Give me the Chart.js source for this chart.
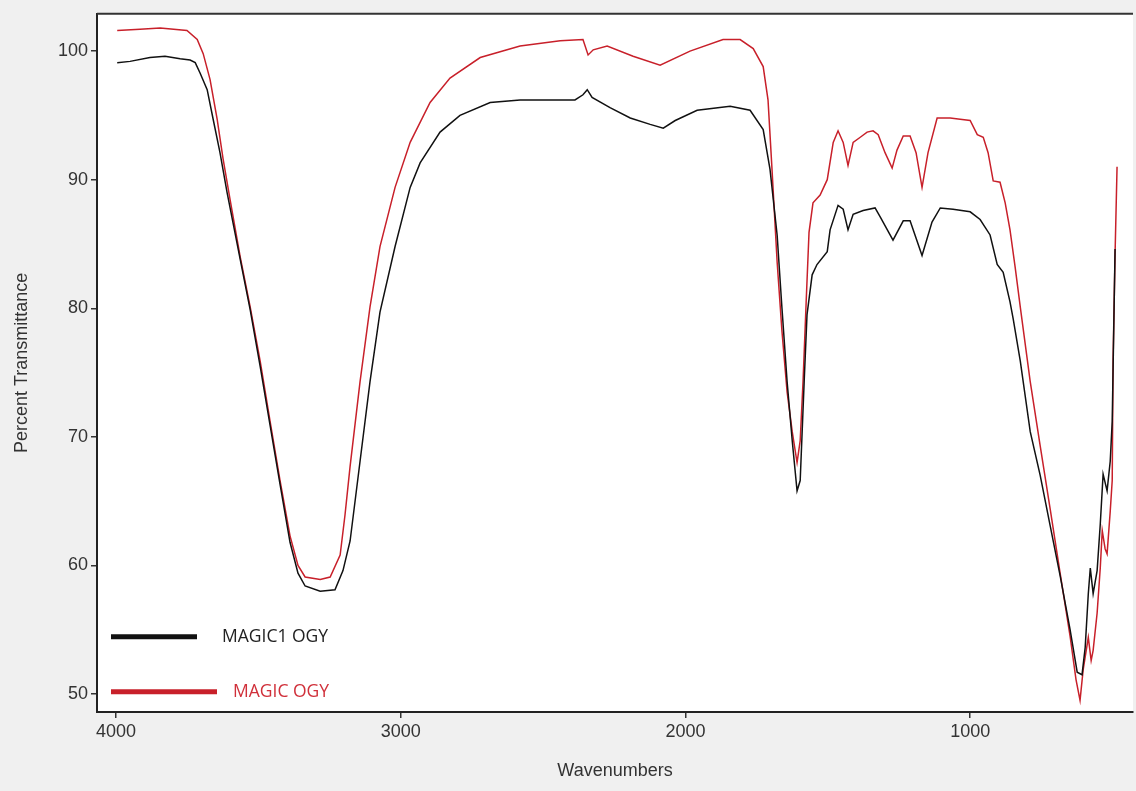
<!DOCTYPE html>
<html lang="en">
<head>
<meta charset="UTF-8">
<title>Percent Transmittance vs Wavenumbers</title>
<script src="https://cdn.jsdelivr.net/npm/chart.js"></script>
<style>
  html, body { margin: 0; padding: 0; background: #f0f0f0; }
  .wrap { width: 1136px; height: 791px; }
</style>
</head>
<body>
<div class="wrap"><canvas id="ftirChart" width="1136" height="791"></canvas></div>
<script>
// MAGIC1 OGY (black trace)
const wnBlack = [3996, 3951, 3881, 3828, 3775, 3740, 3722, 3705, 3680, 3659, 3635, 3610, 3564, 3529, 3494, 3459,
  3424, 3389, 3361, 3336, 3283, 3231, 3203, 3178, 3143, 3108, 3073, 3020, 2967, 2932, 2862, 2792, 2686, 2581,
  2475, 2388, 2360, 2345, 2328, 2265, 2194, 2124, 2078, 2036, 1959, 1843, 1773, 1727, 1703, 1678, 1661, 1643,
  1625, 1608, 1597, 1583, 1573, 1555, 1538, 1502, 1492, 1464, 1446, 1429, 1411, 1376, 1334, 1316, 1271, 1235,
  1211, 1169, 1134, 1105, 1060, 1000, 965, 930, 905, 884, 860, 849, 824, 789, 754, 719, 684, 649, 624, 607,
  596, 585, 578, 568, 554, 543, 533, 519, 508, 501, 491];
const tBlack = [99.1, 99.2, 99.5, 99.6, 99.4, 99.3, 99.1, 98.3, 97.0, 94.7, 92.1, 89.0, 83.8, 79.9, 75.5, 70.9,
  66.3, 61.8, 59.4, 58.4, 58.0, 58.1, 59.6, 61.9, 68.1, 74.3, 79.7, 84.8, 89.4, 91.3, 93.7, 95.0, 96.0, 96.2,
  96.2, 96.2, 96.6, 97.0, 96.4, 95.6, 94.8, 94.3, 94.0, 94.6, 95.4, 95.7, 95.4, 93.9, 90.8, 85.7, 80.0, 74.3,
  69.7, 65.8, 66.6, 74.3, 79.5, 82.6, 83.4, 84.4, 86.1, 88.0, 87.7, 86.1, 87.3, 87.6, 87.8, 87.1, 85.3, 86.8,
  86.8, 84.1, 86.7, 87.8, 87.7, 87.5, 86.9, 85.7, 83.4, 82.8, 80.5, 79.2, 75.9, 70.4, 67.0, 63.1, 59.2, 55.0, 51.7, 51.5,
  53.6, 57.8, 59.8, 57.8, 59.6, 63.2, 67.1, 65.8, 68.1, 71.2, 84.6];

// MAGIC OGY (red trace)
const wnRed = [3996, 3916, 3845, 3751, 3715, 3694, 3670, 3645, 3624, 3600, 3564, 3529, 3494, 3459, 3424, 3389,
  3361, 3336, 3283, 3248, 3213, 3196, 3178, 3143, 3108, 3073, 3020, 2967, 2897, 2827, 2721, 2581, 2440, 2360,
  2342, 2324, 2275, 2184, 2089, 1984, 1868, 1808, 1762, 1727, 1710, 1696, 1678, 1661, 1643, 1625, 1608, 1597,
  1587, 1576, 1566, 1552, 1527, 1502, 1481, 1464, 1446, 1429, 1411, 1386, 1362, 1341, 1323, 1299, 1274, 1257,
  1235, 1211, 1190, 1169, 1148, 1116, 1070, 1035, 1000, 975, 954, 937, 919, 895, 877, 860, 842, 824, 789, 754,
  719, 684, 649, 628, 614, 603, 585, 575, 568, 554, 543, 536, 526, 519, 508, 501, 498, 491, 484];
const tRed = [101.6, 101.7, 101.8, 101.6, 100.9, 99.8, 97.8, 94.7, 91.6, 88.5, 84.0, 80.1, 75.9, 71.2, 66.6, 62.3,
  60.0, 59.1, 58.9, 59.1, 60.8, 63.9, 67.7, 74.3, 80.1, 84.8, 89.4, 92.9, 96.0, 97.9, 99.5, 100.4, 100.8, 100.9,
  99.7, 100.1, 100.4, 99.6, 98.9, 100.0, 100.9, 100.9, 100.2, 98.8, 96.2, 90.8, 83.6, 78.2, 73.5, 70.4, 68.0, 69.7,
  74.3, 80.5, 85.9, 88.2, 88.8, 90.0, 92.9, 93.8, 92.9, 91.1, 92.9, 93.3, 93.7, 93.8, 93.5, 92.1, 90.9, 92.3,
  93.4, 93.4, 92.1, 89.4, 92.1, 94.8, 94.8, 94.7, 94.6, 93.5, 93.3, 92.1, 89.9, 89.8, 88.2, 86.1, 83.2, 80.1, 74.3, 69.3,
  64.4, 59.4, 54.5, 51.1, 49.5, 51.9, 54.4, 52.6, 53.4, 56.3, 59.8, 62.7, 61.3, 60.9, 64.2, 66.6, 75.9, 84.2, 91.0];

const xTicks = [4000, 3000, 2000, 1000];
const yTicks = [50, 60, 70, 80, 90, 100];

const toPoints = (xs, ys) => xs.map((x, i) => ({ x: x, y: ys[i] }));

const frameAndLegend = {
  id: 'frameAndLegend',
  beforeDraw(chart) {
    const { ctx, chartArea: a } = chart;
    ctx.save();
    ctx.fillStyle = '#f0f0f0';
    ctx.fillRect(0, 0, chart.width, chart.height);
    ctx.fillStyle = '#ffffff';
    ctx.fillRect(a.left, a.top, a.right - a.left, a.bottom - a.top);
    ctx.restore();
  },
  afterDraw(chart) {
    const { ctx, chartArea: a } = chart;
    ctx.save();
    // top border of the plot box
    ctx.strokeStyle = '#333';
    ctx.lineWidth = 2;
    ctx.beginPath();
    ctx.moveTo(a.left, a.top);
    ctx.lineTo(a.right, a.top);
    ctx.stroke();

    // legend inside the plot, bottom left
    const items = [
      { ds: chart.data.datasets[0], y: a.top + 623, x0: a.left + 14, x1: a.left + 100, tx: a.left + 125 },
      { ds: chart.data.datasets[1], y: a.top + 678, x0: a.left + 14, x1: a.left + 120, tx: a.left + 136 }
    ];
    ctx.font = '17.5px "Open Sans", sans-serif';
    ctx.textBaseline = 'middle';
    items.forEach(it => {
      ctx.strokeStyle = it.ds.borderColor;
      ctx.lineWidth = 5;
      ctx.beginPath();
      ctx.moveTo(it.x0, it.y);
      ctx.lineTo(it.x1, it.y);
      ctx.stroke();
      ctx.fillStyle = it.ds.labelColor;
      ctx.fillText(it.ds.label, it.tx, it.y);
    });
    ctx.restore();
  }
};

const tickFont = { family: '"Liberation Sans", Arial, sans-serif', size: 18 };
const titleFont = { family: '"Liberation Sans", Arial, sans-serif', size: 18 };

new Chart(document.getElementById('ftirChart'), {
  type: 'line',
  data: {
    datasets: [
      {
        label: 'MAGIC1 OGY',
        data: toPoints(wnBlack, tBlack),
        borderColor: '#111111',
        labelColor: '#222222',
        borderWidth: 1.5,
        pointRadius: 0,
        tension: 0
      },
      {
        label: 'MAGIC OGY',
        data: toPoints(wnRed, tRed),
        borderColor: '#c8202a',
        labelColor: '#d0303a',
        borderWidth: 1.5,
        pointRadius: 0,
        tension: 0
      }
    ]
  },
  options: {
    responsive: false,
    animation: false,
    devicePixelRatio: 1,
    layout: { padding: { top: 10, right: 3, left: 0, bottom: 0 } },
    plugins: {
      legend: { display: false },
      tooltip: { enabled: false }
    },
    scales: {
      x: {
        type: 'linear',
        reverse: true,
        min: 428,
        max: 4067,
        afterBuildTicks: s => { s.ticks = xTicks.map(v => ({ value: v })); },
        afterFit: s => { s.height = 79; },
        ticks: {
          color: '#333',
          font: tickFont,
          padding: 3,
          autoSkip: false,
          maxRotation: 0,
          callback: v => String(v)
        },
        grid: { drawOnChartArea: false, drawTicks: true, tickLength: 6, color: '#333', lineWidth: 1.5 },
        border: { color: '#222', width: 2 },
        title: { display: true, text: 'Wavenumbers', color: '#333', font: titleFont, padding: { top: 0, bottom: 9 } }
      },
      y: {
        type: 'linear',
        min: 48.6,
        max: 102.9,
        afterBuildTicks: s => { s.ticks = yTicks.map(v => ({ value: v })); },
        afterFit: s => { s.width = 97; },
        ticks: {
          color: '#333',
          font: tickFont,
          padding: 3,
          callback: v => String(v)
        },
        grid: { drawOnChartArea: false, drawTicks: true, tickLength: 6, color: '#333', lineWidth: 1.5 },
        border: { color: '#222', width: 2 },
        title: { display: true, text: 'Percent Transmittance', color: '#333', font: titleFont, padding: { top: 11, bottom: 0 } }
      }
    }
  },
  plugins: [frameAndLegend]
});
</script>
</body>
</html>
